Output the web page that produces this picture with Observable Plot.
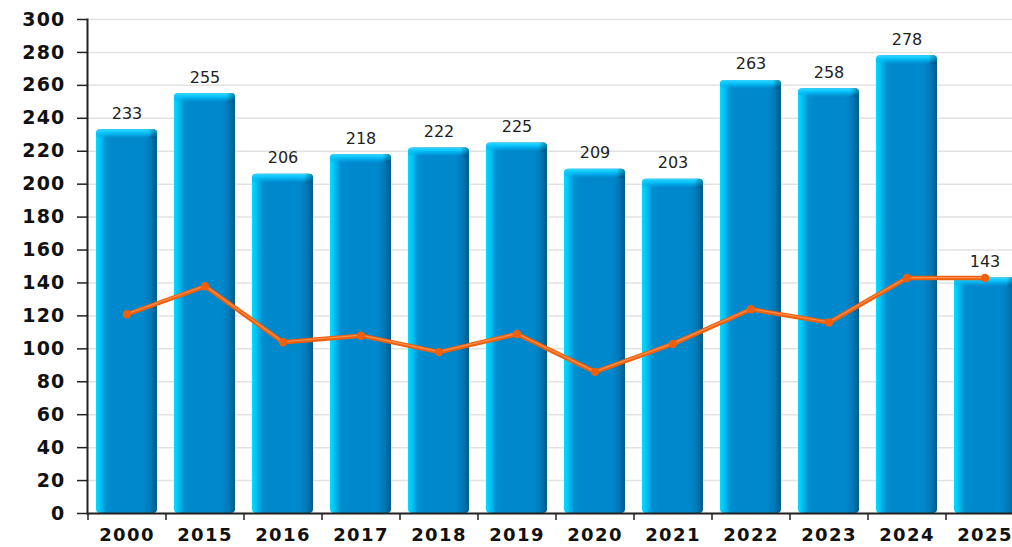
<!DOCTYPE html>
<html>
<head>
<meta charset="utf-8">
<script src="https://cdn.jsdelivr.net/npm/d3@7"></script>
<script src="https://cdn.jsdelivr.net/npm/@observablehq/plot@0.6"></script>
<style>
  html, body { margin: 0; padding: 0; background: #fff; }
  g[aria-label="y-axis tick label"] text { letter-spacing: 1.2px; }
  g[aria-label="x-axis tick label"] text { letter-spacing: 1.4px; }
</style>
</head>
<body>
<div id="chart"></div>
<script>
const years = ["2000","2015","2016","2017","2018","2019","2020","2021","2022","2023","2024","2025"];
const barValues = [233, 255, 206, 218, 222, 225, 209, 203, 263, 258, 278, 143];
const lineValues = [121, 138, 104, 108, 98, 109, 86, 103, 124, 116, 143, 143];
const yTicks = [0,20,40,60,80,100,120,140,160,180,200,220,240,260,280,300];

const data = years.map((year, i) => ({year, bar: barValues[i], line: lineValues[i]}));

const defs = () => {
  const d = d3.create("svg:defs");
  const g = d.append("linearGradient").attr("id", "barGrad").attr("x1", 0).attr("x2", 1).attr("y1", 0).attr("y2", 0);
  [[0, "#00dcff"], [0.07, "#00c2f6"], [0.17, "#0090d2"], [0.28, "#0088cc"], [0.78, "#0088cc"], [0.9, "#0078b6"], [1, "#005a88"]]
    .forEach(([o, c]) => g.append("stop").attr("offset", o).attr("stop-color", c));
  const c = d.append("linearGradient").attr("id", "capGrad").attr("x1", 0).attr("x2", 0).attr("y1", 0).attr("y2", 1);
  [[0, "#35d6ff", 1], [0.35, "#0cc8ff", 0.95], [0.7, "#00b4f0", 0.55], [1, "#00a0e0", 0]]
    .forEach(([o, col, op]) => c.append("stop").attr("offset", o).attr("stop-color", col).attr("stop-opacity", op));
  const r = d.append("linearGradient").attr("id", "capShade").attr("x1", 0).attr("x2", 1).attr("y1", 0).attr("y2", 0);
  [[0, "#000", 0], [0.86, "#000", 0], [1, "#003050", 0.45]]
    .forEach(([o, col, op]) => r.append("stop").attr("offset", o).attr("stop-color", col).attr("stop-opacity", op));
  return d.node();
};

const chart = Plot.plot({
  width: 1012,
  height: 547,
  marginTop: 19,
  marginBottom: 34,
  marginLeft: 87,
  marginRight: 0,
  style: {fontFamily: "DejaVu Sans", background: "#fff", color: "#111"},
  x: {domain: years, range: [87, 1023], paddingInner: 0.22, paddingOuter: 0.11, label: null},
  y: {domain: [0, 300], label: null},
  marks: [
    defs,
    Plot.gridY(yTicks, {stroke: "#e2e2e2", strokeOpacity: 1, strokeWidth: 1.5}),
    Plot.barY(data, {x: "year", y1: 0, y2: "bar", fill: "url(#barGrad)", rx: 4}),
    Plot.barY(data, {x: "year", y1: d => d.bar - 5.5, y2: "bar", fill: "url(#capGrad)", rx: 4}),
    Plot.barY(data, {x: "year", y1: d => d.bar - 5.5, y2: "bar", fill: "url(#capShade)", rx: 4}),
    Plot.text(data, {x: "year", y: "bar", text: d => String(d.bar), dy: -11, lineAnchor: "bottom", fontSize: 16, fill: "#222"}),
    Plot.line(data, {x: "year", y: "line", stroke: "#ee600e", strokeWidth: 4.5}),
    Plot.line(data, {x: "year", y: "line", stroke: "#ffa468", strokeWidth: 1.2, strokeOpacity: 0.7, dy: -0.5}),
    Plot.dot(data, {x: "year", y: "line", r: 4.2, fill: "#f0600c", stroke: null}),
    Plot.axisY(yTicks, {tickSize: 10, tickPadding: 12, fontSize: 19, fontWeight: "bold", stroke: "#222", strokeWidth: 1.5, fill: "#111"}),
    Plot.axisX({tickSize: 7, text: null, dx: -39, stroke: "#222", strokeWidth: 1.5}),
    Plot.axisX({tickSize: 0, tickPadding: 15, fontSize: 18, fontWeight: "bold", fill: "#111"}),
    Plot.ruleY([0], {stroke: "#222", strokeWidth: 2}),
    Plot.frame({anchor: "left", stroke: "#222", strokeWidth: 2})
  ]
});
document.getElementById("chart").appendChild(chart);
</script>
</body>
</html>
